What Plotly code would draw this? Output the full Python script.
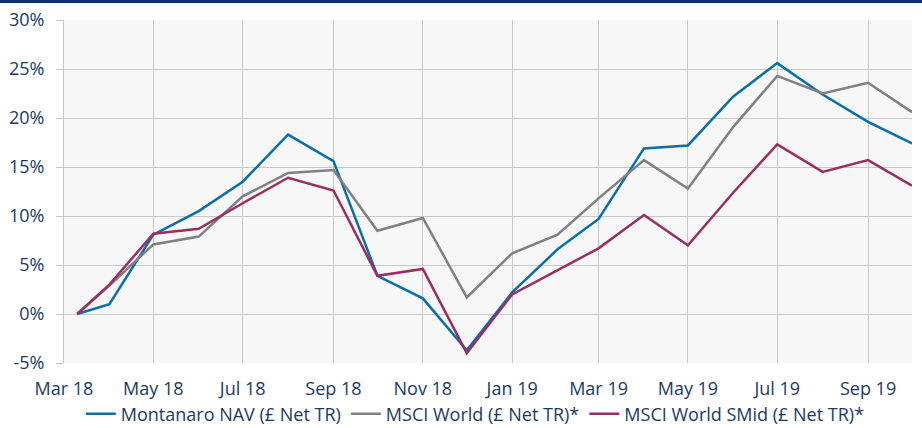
import plotly.graph_objects as go

dates = ["2018-03-10", "2018-04-01", "2018-05-01", "2018-06-01", "2018-07-01", "2018-08-01",
         "2018-09-01", "2018-10-01", "2018-11-01", "2018-12-01", "2019-01-01", "2019-02-01",
         "2019-03-01", "2019-04-01", "2019-05-01", "2019-06-01", "2019-07-01", "2019-08-01",
         "2019-09-01", "2019-10-01"]

montanaro = [0.0, 1.0, 8.1, 10.5, 13.5, 18.3, 15.6, 3.9, 1.6, -3.7, 2.2, 6.6,
             9.7, 16.9, 17.2, 22.2, 25.6, 22.4, 19.6, 17.4]
msci_world = [0.0, 2.9, 7.1, 7.9, 12.0, 14.4, 14.7, 8.5, 9.8, 1.7, 6.2, 8.1,
              11.8, 15.7, 12.8, 19.1, 24.3, 22.5, 23.6, 20.6]
msci_smid = [0.0, 3.0, 8.2, 8.7, 11.3, 13.9, 12.6, 3.9, 4.6, -4.0, 2.0, 4.5,
             6.7, 10.1, 7.0, 12.4, 17.3, 14.5, 15.7, 13.1]

series_names = ["Montanaro NAV (£ Net TR)", "MSCI World (£ Net TR)*", "MSCI World SMid (£ Net TR)*"]
series_colors = ["#0a6fa8", "#808080", "#9b2e60"]

tick_dates = ["2018-03-01", "2018-05-01", "2018-07-01", "2018-09-01", "2018-11-01",
              "2019-01-01", "2019-03-01", "2019-05-01", "2019-07-01", "2019-09-01"]
tick_labels = ["Mar 18", "May 18", "Jul 18", "Sep 18", "Nov 18",
               "Jan 19", "Mar 19", "May 19", "Jul 19", "Sep 19"]
y_ticks = [-5, 0, 5, 10, 15, 20, 25, 30]
y_labels = ["-5%", "0%", "5%", "10%", "15%", "20%", "25%", "30%"]

text_color = "#1b3a63"
font_family = "'Open Sans', Lato, sans-serif"

fig = go.Figure()
for name, vals, col in zip(series_names, [montanaro, msci_world, msci_smid], series_colors):
    fig.add_trace(go.Scatter(x=dates, y=vals, mode="lines", name=name,
                             line=dict(color=col, width=2.5)))

fig.update_layout(
    width=922, height=428,
    margin=dict(l=64, r=10, t=20, b=65, autoexpand=False),
    paper_bgcolor="white",
    plot_bgcolor="#f7f7f7",
    font=dict(family=font_family, size=18, color=text_color),
    showlegend=True,
    legend=dict(orientation="h", x=0.485, xanchor="center", y=-0.149, yanchor="middle",
                font=dict(size=18, color=text_color), bgcolor="rgba(0,0,0,0)",
                tracegroupgap=0),
    xaxis=dict(type="date", range=["2018-03-01", "2019-10-01"],
               tickmode="array", tickvals=tick_dates, ticktext=tick_labels,
               showgrid=True, gridcolor="#c8c8c8", gridwidth=1,
               showline=False, zeroline=False, ticks="", ticklabelstandoff=13,
               tickfont=dict(size=18, color=text_color)),
    yaxis=dict(range=[-5, 30], tickmode="array", tickvals=y_ticks, ticktext=y_labels,
               showgrid=True, gridcolor="#c8c8c8", gridwidth=1,
               showline=True, linecolor="#c8c8c8", linewidth=1,
               zeroline=False, ticks="outside", ticklen=7, tickcolor="#c8c8c8",
               ticklabelstandoff=8,
               tickfont=dict(size=18, color=text_color)),
    shapes=[dict(type="rect", xref="paper", yref="paper",
                 x0=-0.1, x1=1.1, y0=1 + 17 / 343, y1=1 + 21 / 343,
                 fillcolor="#0b3467", line=dict(width=0), layer="above")],
)

fig.write_html("out.html", config={"displayModeBar": False},
               post_script="document.body.style.margin='0';")
